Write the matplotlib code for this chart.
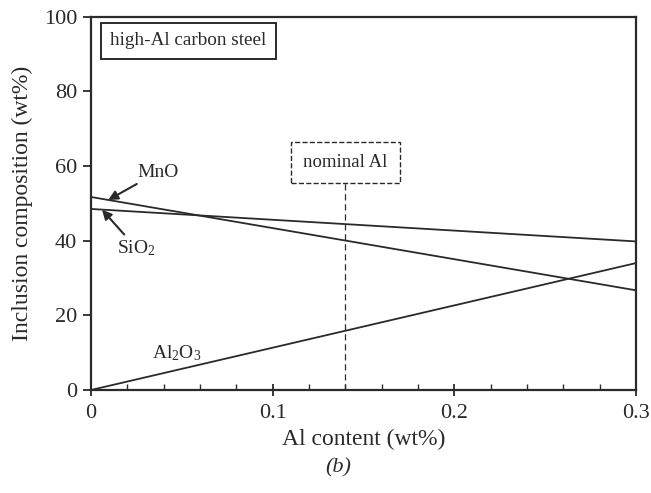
import numpy as np
import matplotlib
matplotlib.use("Agg")
import matplotlib.pyplot as plt
from matplotlib.ticker import MultipleLocator

plt.rcParams["font.family"] = ["Liberation Serif", "DejaVu Serif"]
plt.rcParams["mathtext.fontset"] = "custom"
plt.rcParams["mathtext.rm"] = "Liberation Serif"
plt.rcParams["mathtext.it"] = "Liberation Serif:italic"

# data
al_content = [0.0, 0.3]
mno = [51.7, 26.7]
sio2 = [48.5, 39.8]
al2o3 = [0.0, 34.0]
nominal_al = 0.14

fig = plt.figure(figsize=(6.51, 4.93), dpi=100)
ax = fig.add_axes([0.140, 0.209, 0.837, 0.757])

lc = "#2a2a2a"
ax.plot(al_content, mno, color=lc, lw=1.3)
ax.plot(al_content, sio2, color=lc, lw=1.3)
ax.plot(al_content, al2o3, color=lc, lw=1.3)

ax.set_xlim(0, 0.3)
ax.set_ylim(0, 100)
ax.xaxis.set_minor_locator(MultipleLocator(0.02))
ax.yaxis.set_major_locator(MultipleLocator(20))
ax.set_xticks([0, 0.1, 0.2, 0.3])
ax.set_xticklabels(["0", "0.1", "0.2", "0.3"])
ax.tick_params(axis="x", which="major", direction="inout", length=8, width=1.3, labelsize=16, pad=6, colors=lc)
ax.tick_params(axis="x", which="minor", direction="in", length=4, width=1.0, colors=lc)
ax.tick_params(axis="y", which="major", direction="out", length=6, width=1.3, labelsize=16, pad=4, colors=lc)
for s in ax.spines.values():
    s.set_linewidth(1.6)
    s.set_color(lc)

ax.set_xlabel("Al content (wt%)", fontsize=17, labelpad=4, color=lc)
ax.set_ylabel("Inclusion composition (wt%)", fontsize=17, labelpad=8, color=lc)
fig.text(0.52, 0.05, "(b)", fontsize=16, style="italic", ha="center", va="center", color=lc)

# nominal Al marker
ax.plot([nominal_al, nominal_al], [0, 56.3], color=lc, lw=0.9, ls=(0, (5, 3)))
ax.text(nominal_al, 60.9, "nominal Al", fontsize=13.5, ha="center", va="center", color=lc,
        bbox=dict(boxstyle="square,pad=0.65", fc="white", ec=lc, lw=1.0, ls="--"))

ax.text(0.0105, 93.6, "high-Al carbon steel", fontsize=13.8, ha="left", va="center", color=lc,
        bbox=dict(boxstyle="square,pad=0.5", fc="white", ec=lc, lw=1.4))

arrow = dict(arrowstyle="-|>", color=lc, lw=1.5, mutation_scale=14, shrinkA=1, shrinkB=0)
ax.annotate("MnO", xy=(0.0094, 50.9), xytext=(0.0255, 58.4), fontsize=14, ha="left", va="center",
            color=lc, arrowprops=arrow)
ax.annotate("SiO$_2$", xy=(0.006, 48.3), xytext=(0.0143, 38.0), fontsize=14, ha="left", va="center",
            color=lc, arrowprops=arrow)
ax.text(0.0336, 9.8, "Al$_2$O$_3$", fontsize=14, ha="left", va="center", color=lc)

fig.savefig("out.png", dpi=100)
